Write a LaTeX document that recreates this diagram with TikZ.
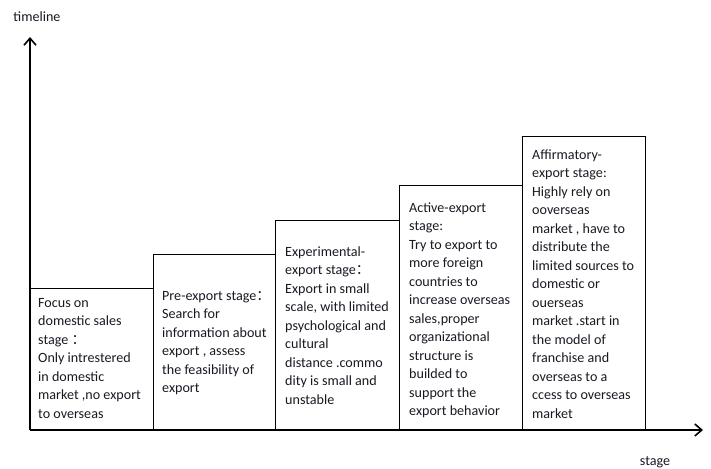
\documentclass[tikz,border=0pt]{standalone}
\usepackage{fontspec}
\setmainfont{Carlito}
\newfontfamily\cjk{Noto Sans CJK SC}
\usetikzlibrary{arrows.meta}
\definecolor{txt}{RGB}{25,25,35}
\tikzset{
  axis/.style={line width=1.6pt, -{Straight Barb[length=7pt,width=12pt,line width=1.6pt]}},
  stagebox/.style={draw, line width=0.9pt, anchor=south west, inner sep=0pt},
  stagetext/.style={anchor=north west, inner sep=0pt, align=left, text=txt, font=\fontsize{14.1}{18.5}\selectfont},
  lbl/.style={text=txt, font=\fontsize{14.1}{18.5}\selectfont, inner sep=0pt}
}
\newcommand{\fc}{{\cjk ：}}
\begin{document}
\begin{tikzpicture}[x=1pt,y=-1pt]
\useasboundingbox (0,0) rectangle (711,468);
\coordinate (O) at (30,430);
\coordinate (ytip) at (30,37);
\coordinate (xtip) at (703,430);
% boxes
\node[stagebox, minimum width=123pt, minimum height=141pt] (b1) at (30,430) {};
\node[stagebox, minimum width=122pt, minimum height=175pt] (b2) at (153,430) {};
\node[stagebox, minimum width=124pt, minimum height=209pt] (b3) at (275,430) {};
\node[stagebox, minimum width=123pt, minimum height=244pt] (b4) at (399,430) {};
\node[stagebox, minimum width=123pt, minimum height=293pt] (b5) at (522,430) {};
% axes
\draw[axis] (O) -- (ytip);
\draw[axis] (O) -- (xtip);
\node[lbl] (tl) at (37,17) {timeline};
\node[lbl] (st) at (655,462) {stage};
% texts
\node[stagetext] (t1) at ([xshift=8pt,yshift=-10pt]b1.north west) {Focus on\\domestic sales\\stage \fc\\Only intrestered\\in domestic\\market ,no export\\to overseas};
\node[stagetext] (t2) at ([xshift=9pt,yshift=-37pt]b2.north west) {Pre-export stage\fc\\Search for\\information about\\export , assess\\the feasibility of\\export};
\node[stagetext] (t3) at ([xshift=10pt,yshift=-26pt]b3.north west) {Experimental-\\export stage\fc\\Export in small\\scale, with limited\\psychological and\\cultural\\distance .commo\\dity is small and\\unstable};
\node[stagetext] (t4) at ([xshift=10pt,yshift=-17pt]b4.north west) {Active-export\\stage:\\Try to export to\\more foreign\\countries to\\increase overseas\\sales,proper\\organizational\\structure is\\builded to\\support the\\export behavior};
\node[stagetext] (t5) at ([xshift=10pt,yshift=-13pt]b5.north west) {Affirmatory-\\export stage:\\Highly rely on\\ooverseas\\market , have to\\distribute the\\limited sources to\\domestic or\\ouerseas\\market .start in\\the model of\\franchise and\\overseas to a\\ccess to overseas\\market};
\end{tikzpicture}
\end{document}
